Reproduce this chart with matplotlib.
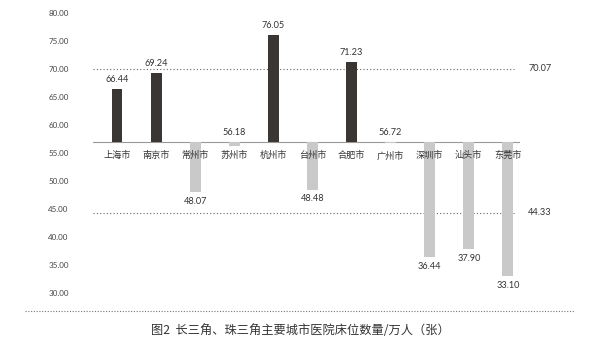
import matplotlib
matplotlib.use("Agg")
import matplotlib.pyplot as plt
from matplotlib.lines import Line2D

plt.rcParams['font.family'] = ['Noto Sans CJK SC', 'DejaVu Sans']

cities = ["上海市", "南京市", "常州市", "苏州市", "杭州市", "台州市", "合肥市", "广州市", "深圳市", "汕头市", "东莞市"]
values = [66.44, 69.24, 48.07, 56.18, 76.05, 48.48, 71.23, 56.72, 36.44, 37.90, 33.10]
ref_high = 70.07
ref_low = 44.33
baseline = 57.0
yticks = [30, 35, 40, 45, 50, 55, 60, 65, 70, 75, 80]
title = "图2  长三角、珠三角主要城市医院床位数量/万人（张）"

W, H = 600, 358
fig = plt.figure(figsize=(W / 100, H / 100), dpi=100)
ax = fig.add_axes([93 / W, 1 - 293 / H, (520 - 93) / W, (293 - 13) / H])
ax.set_xlim(-0.614, 10.31)
ax.set_ylim(30, 80)
for s in ax.spines.values():
    s.set_visible(False)
ax.set_xticks([])
ax.set_yticks(yticks)
ax.set_yticklabels([f"{t:.2f}" for t in yticks], family=['Lato', 'DejaVu Sans'], fontsize=5.8, color='#444444')
ax.tick_params(axis='y', length=0, pad=17.5)

dark = '#3a3634'
light = '#c9c9c9'
num_font = ['Lato', 'DejaVu Sans']
for i, (c, v) in enumerate(zip(cities, values)):
    col = dark if v > baseline else light
    ax.bar(i, v - baseline, bottom=baseline, width=0.28, color=col, zorder=2)
    if v > baseline or baseline - v < 1.5:
        ax.annotate(f"{v:.2f}", (i, max(v, baseline)), xytext=(0, 3.5), textcoords='offset points',
                    ha='center', va='bottom', fontsize=6.6, color='#333333', family=num_font)
    else:
        ax.annotate(f"{v:.2f}", (i, v), xytext=(0, -3.5), textcoords='offset points',
                    ha='center', va='top', fontsize=6.6, color='#333333', family=num_font)
    ax.annotate(c, (i, baseline), xytext=(0, -10), textcoords='offset points',
                ha='center', va='center', fontsize=6.6, color='#333333', zorder=3)

xl = ax.get_xlim()
ax.plot(xl, [baseline, baseline], color='#999999', lw=0.8, zorder=1)
ax.plot([xl[0], 10.15], [ref_high, ref_high], color='#666666', lw=0.8, ls=(0, (1, 2)), zorder=1)
ax.plot([xl[0], 10.15], [ref_low, ref_low], color='#666666', lw=0.8, ls=(0, (1, 2)), zorder=1)
ax.text(10.82, ref_high, f"{ref_high:.2f}", ha='center', va='center', fontsize=6.6, color='#333333', family=num_font, clip_on=False)
ax.text(10.82, ref_low, f"{ref_low:.2f}", ha='center', va='center', fontsize=6.6, color='#333333', family=num_font, clip_on=False)

fig.add_artist(Line2D([25 / W, 575 / W], [1 - 311 / H, 1 - 311 / H], color='#777777', lw=0.8, ls=(0, (1, 1.5))))
fig.text(0.5, 1 - 331 / H, title, ha='center', va='center', fontsize=8.8, color='#333333')

fig.savefig("out.png", dpi=100)
